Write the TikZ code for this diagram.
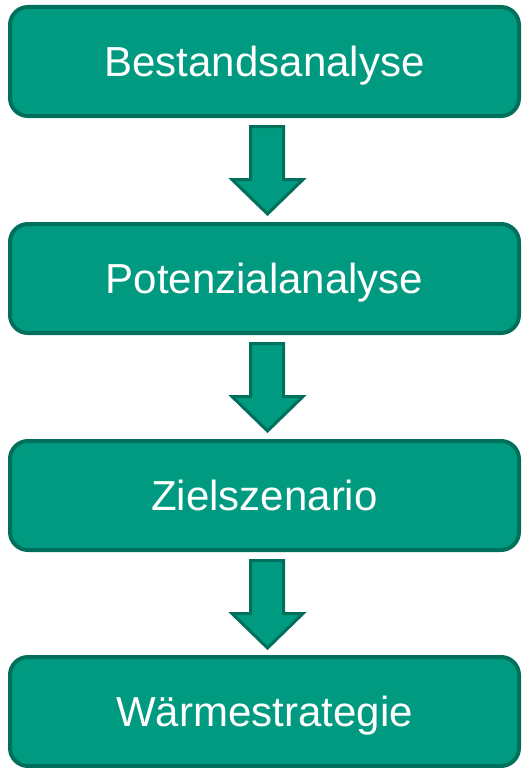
\documentclass[tikz,border=0pt]{standalone}
\usepackage{fontspec}
\setmainfont{Liberation Sans}
\usetikzlibrary{calc}
\definecolor{boxfill}{RGB}{0,154,128}
\definecolor{boxline}{RGB}{0,112,92}
\tikzset{
  box/.style={draw=boxline, fill=boxfill, line width=4pt, rounded corners=18pt,
    minimum width=509pt, minimum height=109pt, inner sep=0pt, outer sep=0pt,
    text height=30pt, text depth=0pt,
    text=white, font=\fontsize{42pt}{50pt}\selectfont},
  flowarrow/.style={draw=boxline, fill=boxfill, line width=3pt, line join=miter}
}
\begin{document}
\begin{tikzpicture}
\useasboundingbox (0,0) rectangle (522pt,-768pt);
\node[box] (b1) at (264.5pt,-61.5pt) {Bestandsanalyse};
\node[box] (b2) at (264.5pt,-278.5pt) {Potenzialanalyse};
\node[box] (b3) at (264.5pt,-495.5pt) {Zielszenario};
\node[box] (b4) at (264.5pt,-711.5pt) {Wärmestrategie};
\foreach \a in {b1,b2,b3}{
  \draw[flowarrow, shift={(\a.south)}]
    (-14pt,-10.5pt) -- (19pt,-10.5pt) -- (19pt,-63.5pt) -- (38.5pt,-63.5pt)
    -- (3pt,-98pt) -- (-32.5pt,-63.5pt) -- (-14pt,-63.5pt) -- cycle;
}
\end{tikzpicture}
\end{document}
